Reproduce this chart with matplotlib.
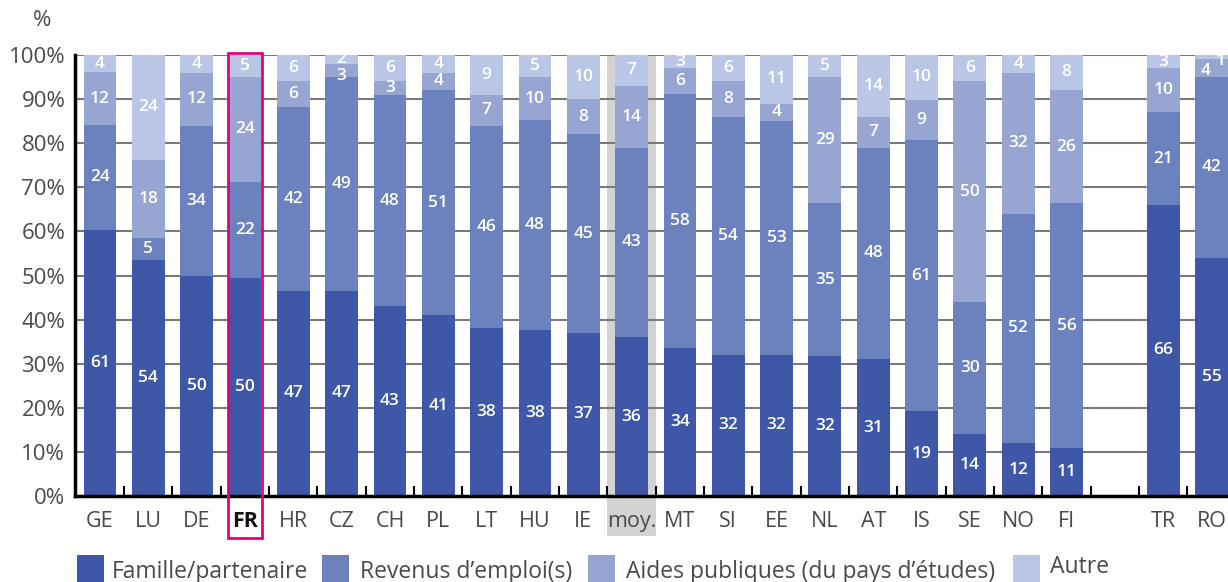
import numpy as np
import matplotlib
matplotlib.use("Agg")
import matplotlib.pyplot as plt
from matplotlib.patches import Rectangle

plt.rcParams['font.family'] = ['Open Sans', 'DejaVu Sans']

categories = ["GE", "LU", "DE", "FR", "HR", "CZ", "CH", "PL", "LT", "HU", "IE",
              "moy.", "MT", "SI", "EE", "NL", "AT", "IS", "SE", "NO", "FI",
              "TR", "RO"]
series_names = ["Famille/partenaire", "Revenus d\u2019emploi(s)",
                "Aides publiques (du pays d\u2019\u00e9tudes)", "Autre"]
famille = [61, 54, 50, 50, 47, 47, 43, 41, 38, 38, 37, 36, 34, 32, 32, 32, 31, 19, 14, 12, 11, 66, 55]
revenus = [24, 5, 34, 22, 42, 49, 48, 51, 46, 48, 45, 43, 58, 54, 53, 35, 48, 61, 30, 52, 56, 21, 42]
aides   = [12, 18, 12, 24, 6, 3, 3, 4, 7, 10, 8, 14, 6, 8, 4, 29, 7, 9, 50, 32, 26, 10, 4]
autre   = [4, 24, 4, 5, 6, 2, 6, 4, 9, 5, 10, 7, 3, 6, 11, 5, 14, 10, 6, 4, 8, 3, 1]
yticks = [0, 10, 20, 30, 40, 50, 60, 70, 80, 90, 100]

colors = ['#3F57A7', '#6C82BF', '#97A5D3', '#B9C6E6']

W, H = 1228, 582
fig = plt.figure(figsize=(W / 100, H / 100), dpi=100)
ax = fig.add_axes([75 / W, 86 / H, 1 - 75 / W, 441 / H])

data = np.array([famille, revenus, aides, autre], dtype=float)
totals = data.sum(axis=0)
norm = data / totals * 100

n = len(categories)
# gap slot between FI and TR
x = np.array([i if i <= 20 else i + 1 for i in range(n)], dtype=float)
bw = 0.68

# highlight band for the average
imoy = categories.index("moy.")
ax.add_patch(Rectangle((x[imoy] - 0.5, -9.0), 1.0, 109.0, facecolor='#D3D3D3',
                       edgecolor='none', zorder=0.2, clip_on=False))

bottom = np.zeros(n)
label_offsets = {("CZ", 2): (0, -4), ("RO", 2): (-4, -2), ("RO", 3): (6.5, -3)}
for s in range(4):
    ax.bar(x, norm[s], bw, bottom=bottom, color=colors[s], zorder=2, linewidth=0)
    for i in range(n):
        lo = bottom[i]
        hi = min(bottom[i] + norm[s][i], 100)
        yc = (lo + hi) / 2
        dx, dy = label_offsets.get((categories[i], s), (0, 0))
        ax.annotate(f"{int(data[s][i])}", (x[i], yc), xytext=(dx, dy),
                    textcoords='offset points', ha='center', va='center',
                    color='white', fontsize=12.5, fontweight='semibold', zorder=5)
    bottom += norm[s]

ax.set_xlim(-0.517, 23.34)
ax.set_ylim(0, 100)
ax.set_yticks(yticks)
ax.set_yticklabels([f"{v}%" for v in yticks])
ax.yaxis.grid(True, color='#7a7a7a', linewidth=1.5, zorder=0.5)
ax.set_axisbelow(True)
ax.tick_params(axis='y', length=0, pad=7, labelsize=16, labelcolor='#4a4a4a')

ax.set_xticks(x)
ax.set_xticklabels(categories)
ax.tick_params(axis='x', length=0, pad=11, labelsize=15.5, labelcolor='#4a4a4a')
for lbl in ax.get_xticklabels():
    if lbl.get_text() == "FR":
        lbl.set_fontweight('bold')
        lbl.set_color('#111111')
minor = [v + 0.5 for v in range(23)]
ax.set_xticks(minor, minor=True)
ax.tick_params(axis='x', which='minor', direction='in', length=7, width=1.5, color='black')

for sp in ['top', 'right']:
    ax.spines[sp].set_visible(False)
ax.spines['left'].set_linewidth(2.5)
ax.spines['bottom'].set_linewidth(2.5)
ax.spines['left'].set_zorder(6)
ax.spines['bottom'].set_zorder(6)

# FR highlight box
ifr = categories.index("FR")
ax.add_patch(Rectangle((x[ifr] - 0.36, -9.5), 0.72, 110.0, facecolor='none',
                       edgecolor='#E6007E', linewidth=2, zorder=7, clip_on=False))

fig.text(42 / W, 1 - 20 / H, "%", ha='center', va='center', fontsize=16, color='#4a4a4a')

# legend
sq_x = [77, 322, 588, 1013]
tx_x = [112, 360, 626, 1050]
base = [578, 578, 578, 573]
for s in range(4):
    fig.patches.append(Rectangle((sq_x[s] / W, 0), 27 / W, 27 / H, facecolor=colors[s],
                                 edgecolor='none', transform=fig.transFigure, figure=fig))
    fig.text(tx_x[s] / W, 1 - base[s] / H, series_names[s], ha='left', va='baseline',
             fontsize=16.5, color='#4a4a4a')

fig.savefig("out.png", dpi=100)
